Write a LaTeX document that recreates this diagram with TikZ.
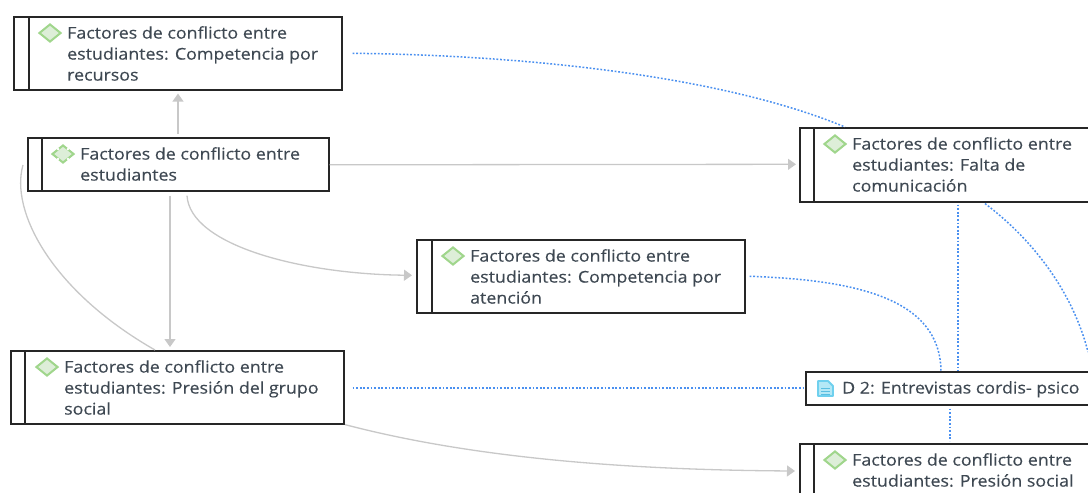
\documentclass[tikz,border=0pt]{standalone}
\usepackage{fontspec}
\setmainfont[FakeStretch=1.1,FakeBold=0.25]{Open Sans}
\usetikzlibrary{arrows.meta,shapes.geometric}
\definecolor{linkgray}{HTML}{C8C8C8}
\definecolor{linkblue}{HTML}{4A90F0}
\definecolor{txt}{HTML}{3E4852}
\definecolor{boxline}{HTML}{262626}
\definecolor{icongreen}{HTML}{A0D68C}
\definecolor{iconfill}{HTML}{DDEED8}
\definecolor{docline}{HTML}{6FD0EE}
\definecolor{docfill}{HTML}{B4E8F6}
\definecolor{docmark}{HTML}{5ABEE1}
\tikzset{
  x=1pt,y=-1pt,
  boxnode/.style={draw=boxline,line width=1.6pt,fill=white,rectangle,anchor=north west,inner sep=0pt},
  barline/.style={draw=boxline,line width=1.6pt},
  label text/.style={anchor=north west,inner sep=0pt,align=left,text=txt,font=\fontsize{16.2}{21}\selectfont},
  code icon/.style={diamond,aspect=1.2,draw=icongreen,line width=2pt,fill=iconfill,inner sep=0pt,minimum width=22pt,minimum height=18pt},
  gray link/.style={draw=linkgray,line width=1.3pt},
  gray arrow/.style={gray link,-{Triangle[length=8pt,width=11pt,fill=linkgray]}},
  blue link/.style={draw=linkblue,line width=1.5pt,dash pattern=on 1.8pt off 1.8pt},
}
\newcommand{\codebox}[9]{% name x y w h barx iconx icony text
  \node[boxnode,minimum width=#4-1,minimum height=#5-1] (#1) at (#2,#3) {};
  \draw[barline] ([xshift=#6]#1.north west) -- ([xshift=#6]#1.south west);
  \node[code icon] (#1i) at (#7,#8) {};
  \node[label text] (#1t) at (#7+17,#8-7) {#9};
}
\begin{document}
\begin{tikzpicture}
\useasboundingbox (0,0) rectangle (1088,493);
\clip (0,0) rectangle (1088,493);
\fill[white] (0,0) rectangle (1088,493);

\codebox{A}{13}{16}{329}{74}{16}{50}{33}{Factores de conflicto entre\\estudiantes: Competencia por\\recursos}
\codebox{B}{27}{137}{302}{54}{15}{63}{154}{Factores de conflicto entre\\estudiantes}
\codebox{C}{799}{127}{310}{75}{15}{835}{144}{Factores de conflicto entre\\estudiantes: Falta de\\comunicación}
\codebox{D}{416}{239}{329}{74}{16}{453}{256}{Factores de conflicto entre\\estudiantes: Competencia por\\atención}
\codebox{E}{10}{350}{334}{74}{15}{47}{367}{Factores de conflicto entre\\estudiantes: Presión del grupo\\social}
\codebox{G}{799}{443}{310}{75}{15}{835}{460}{Factores de conflicto entre\\estudiantes: Presión social}
\node[boxnode,minimum width=300,minimum height=33] (F) at (805,371) {};
\node[anchor=north west,inner sep=0pt,text=txt,font=\fontsize{16.2}{21}\selectfont] (Ft) at (842,381) {D 2: Entrevistas cordis- psico};

% document icon
\filldraw[draw=docline,fill=docfill,line width=1.8pt,line join=round]
  (818,381) -- (828,381) -- (833,386) -- (833,396) -- (818,396) -- cycle;
\draw[draw=docmark,line width=.8pt] (821,388) -- (830,388) (821,391) -- (830,391) (821,394) -- (830,394);

% white dashes over B's icon corners
\foreach \a in {0,90,180,270}
  \fill[white] ([shift={(\a+45:7)}]Bi.center) circle (1.4);

% gray relations
\draw[gray arrow] ([xshift=151,yshift=3]B.north west) -- ([xshift=165,yshift=-3]A.south west);
\draw[gray arrow] ([yshift=-.5,xshift=0]B.east) -- ([xshift=-3]C.west |- B.east);
\draw[gray arrow] ([xshift=143,yshift=-4]B.south west) -- ([xshift=160,yshift=3]E.north west);
\draw[gray arrow] ([xshift=160,yshift=-4]B.south west) .. controls (190,245) and (300,274) .. ([xshift=-4,yshift=1]D.west);
\draw[gray link] ([xshift=-4,yshift=-28]B.north west) .. controls (10,210) and (50,290) .. ([xshift=145]E.north west);
\draw[gray arrow] ([xshift=335]E.south west) .. controls (480,460) and (640,470) .. ([xshift=-4,yshift=-28]G.north west);

% blue relations
\draw[blue link] ([xshift=10]A.east) .. controls (520,55) and (720,75) .. ([xshift=46]C.north west);
\draw[blue link] ([xshift=4]D.east) .. controls (860,280) and (940,300) .. ([xshift=136]F.north west);
\draw[blue link] ([xshift=8,yshift=-.5]E.east) -- ([yshift=.5]F.west);
\draw[blue link] ([xshift=159,yshift=-2]C.south west) -- ([xshift=153]F.north west);
\draw[blue link] ([xshift=186,yshift=-1]C.south west) .. controls (1040,245) and (1075,300) .. (1088,352);
\draw[blue link] ([xshift=145,yshift=-3]F.south west) -- ([xshift=151,yshift=2]G.north west);
\end{tikzpicture}
\end{document}
